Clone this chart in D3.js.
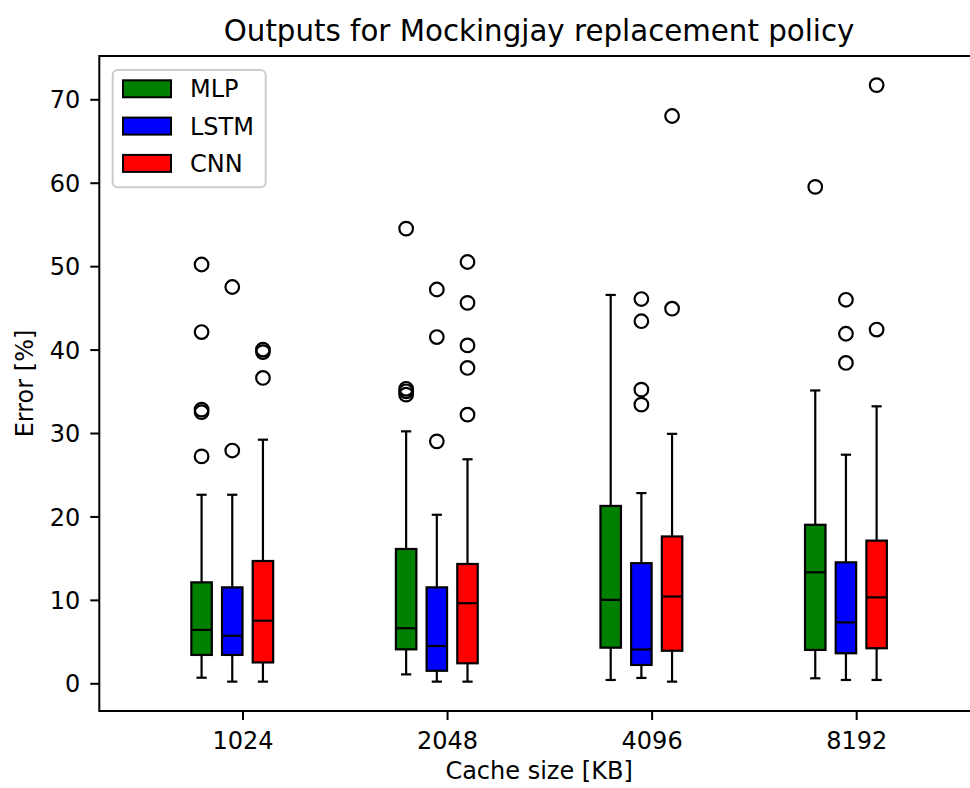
<!DOCTYPE html>
<html>
<head>
<meta charset="utf-8">
<script src="https://cdn.jsdelivr.net/npm/d3@7"></script>
<style>
  body { margin: 0; background: #ffffff; }
  svg text { font-family: "DejaVu Sans", sans-serif; fill: #000; }
</style>
</head>
<body>
<svg id="chart" width="970" height="788"></svg>
<script>
// Cache sizes on the x axis
const categories = ["1024", "2048", "4096", "8192"];
const seriesNames = ["MLP", "LSTM", "CNN"];
const seriesColors = ["#008000", "#0000ff", "#ff0000"];
const yTicks = [0, 10, 20, 30, 40, 50, 60, 70];

// Box statistics (error %), one value per cache size
const mlpLow    = [0.67, 1.07, 0.4, 0.6];
const mlpQ1     = [3.4, 4.07, 4.27, 4.0];
const mlpMedian = [6.4, 6.6, 10.0, 13.3];
const mlpQ3     = [12.1, 16.1, 21.26, 19.0];
const mlpHigh   = [22.6, 30.2, 46.55, 35.1];
const mlpFliers = [[50.2, 42.1, 32.8, 32.5, 27.2], [54.5, 35.3, 35.0, 34.6], [], [59.5]];

const lstmLow    = [0.2, 0.2, 0.64, 0.4];
const lstmQ1     = [3.4, 1.5, 2.2, 3.6];
const lstmMedian = [5.7, 4.47, 4.05, 7.3];
const lstmQ3     = [11.5, 11.5, 14.4, 14.5];
const lstmHigh   = [22.6, 20.2, 22.8, 27.4];
const lstmFliers = [[47.5, 27.9], [47.2, 41.5, 29.0], [46.06, 43.4, 35.2, 33.4], [45.97, 41.9, 38.4]];

const cnnLow    = [0.2, 0.2, 0.2, 0.4];
const cnnQ1     = [2.5, 2.4, 3.9, 4.2];
const cnnMedian = [7.5, 9.6, 10.4, 10.3];
const cnnQ3     = [14.66, 14.3, 17.6, 17.1];
const cnnHigh   = [29.2, 26.85, 29.9, 33.2];
const cnnFliers = [[40.0, 39.7, 36.6], [50.5, 45.6, 40.5, 37.8, 32.2], [68.0, 44.9], [71.7, 42.4]];

// Offset of each model's box from the category position, and box width (data units)
const seriesOffsets = [-0.2, -0.05, 0.1];
const boxWidth = 0.1;

const series = [
  { low: mlpLow, q1: mlpQ1, med: mlpMedian, q3: mlpQ3, high: mlpHigh, fliers: mlpFliers },
  { low: lstmLow, q1: lstmQ1, med: lstmMedian, q3: lstmQ3, high: lstmHigh, fliers: lstmFliers },
  { low: cnnLow, q1: cnnQ1, med: cnnMedian, q3: cnnQ3, high: cnnHigh, fliers: cnnFliers }
];

const plotLeft = 99.3, plotRight = 978.9, plotTop = 56, plotBottom = 711;
const svg = d3.select("#chart");

const x = d3.scaleLinear().domain([0.3, 4.6]).range([plotLeft, plotRight]);
const y = d3.scaleLinear().domain([-3.32, 75.19]).range([plotBottom, plotTop]);

const lw = 2.2;

// Boxes
const plot = svg.append("g");
series.forEach((s, si) => {
  categories.forEach((c, ci) => {
    const pos = ci + 1 + seriesOffsets[si];
    const g = plot.append("g");
    const x0 = x(pos - boxWidth / 2), x1 = x(pos + boxWidth / 2);
    const cx = x(pos);
    const capHalf = (x1 - x0) / 4;
    // whiskers
    g.append("line").attr("x1", cx).attr("x2", cx)
      .attr("y1", y(s.q3[ci])).attr("y2", y(s.high[ci]))
      .attr("stroke", "#000").attr("stroke-width", lw);
    g.append("line").attr("x1", cx).attr("x2", cx)
      .attr("y1", y(s.q1[ci])).attr("y2", y(s.low[ci]))
      .attr("stroke", "#000").attr("stroke-width", lw);
    // caps
    [s.high[ci], s.low[ci]].forEach(v => {
      g.append("line").attr("x1", cx - capHalf).attr("x2", cx + capHalf)
        .attr("y1", y(v)).attr("y2", y(v))
        .attr("stroke", "#000").attr("stroke-width", lw);
    });
    // box
    g.append("rect")
      .attr("x", x0).attr("width", x1 - x0)
      .attr("y", y(s.q3[ci])).attr("height", y(s.q1[ci]) - y(s.q3[ci]))
      .attr("fill", seriesColors[si]).attr("stroke", "#000").attr("stroke-width", lw);
    // median
    g.append("line").attr("x1", x0).attr("x2", x1)
      .attr("y1", y(s.med[ci])).attr("y2", y(s.med[ci]))
      .attr("stroke", "#000").attr("stroke-width", lw);
    // outliers
    g.selectAll("circle.flier").data(s.fliers[ci]).join("circle")
      .attr("class", "flier")
      .attr("cx", cx).attr("cy", d => y(d)).attr("r", 6.8)
      .attr("fill", "none").attr("stroke", "#000").attr("stroke-width", lw);
  });
});

// Axes
const yAxis = d3.axisLeft(y).tickValues(yTicks).tickSize(9).tickSizeOuter(0).tickPadding(10);
const gy = svg.append("g").attr("transform", `translate(${plotLeft},0)`).call(yAxis);
gy.select(".domain").remove();
gy.selectAll(".tick line").attr("stroke", "#000").attr("stroke-width", 2);
gy.selectAll(".tick text").attr("font-size", 24).attr("font-family", "DejaVu Sans").attr("dy", "0.36em");

const xAxis = d3.axisBottom(x).tickValues([1, 2, 3, 4])
  .tickFormat((d, i) => categories[i]).tickSize(9).tickSizeOuter(0).tickPadding(12);
const gx = svg.append("g").attr("transform", `translate(0,${plotBottom})`).call(xAxis);
gx.select(".domain").remove();
gx.selectAll(".tick line").attr("stroke", "#000").attr("stroke-width", 2);
gx.selectAll(".tick text").attr("font-size", 24).attr("font-family", "DejaVu Sans");

// Frame
svg.append("rect")
  .attr("x", plotLeft).attr("y", plotTop)
  .attr("width", plotRight - plotLeft).attr("height", plotBottom - plotTop)
  .attr("fill", "none").attr("stroke", "#000").attr("stroke-width", 2);

// Labels
svg.append("text").attr("x", (plotLeft + plotRight) / 2).attr("y", 41)
  .attr("text-anchor", "middle").attr("font-size", 29.3)
  .text("Outputs for Mockingjay replacement policy");
svg.append("text").attr("x", (plotLeft + plotRight) / 2).attr("y", 779)
  .attr("text-anchor", "middle").attr("font-size", 24)
  .text("Cache size [KB]");
svg.append("text")
  .attr("transform", `translate(33,${(plotTop + plotBottom) / 2}) rotate(-90)`)
  .attr("text-anchor", "middle").attr("font-size", 24)
  .text("Error [%]");

// Legend
const legend = svg.append("g");
legend.append("rect")
  .attr("x", 112.7).attr("y", 70).attr("width", 153).attr("height", 117.3)
  .attr("rx", 5).attr("fill", "#fff").attr("fill-opacity", 0.8)
  .attr("stroke", "#cccccc").attr("stroke-width", 2);
seriesNames.forEach((name, i) => {
  const cy = 88.8 + i * 37.3;
  legend.append("rect")
    .attr("x", 123).attr("y", cy - 8.5).attr("width", 48).attr("height", 17)
    .attr("fill", seriesColors[i]).attr("stroke", "#000").attr("stroke-width", 2);
  legend.append("text").attr("x", 190).attr("y", cy).attr("dy", "0.36em")
    .attr("font-size", 24).text(name);
});
</script>
</body>
</html>
